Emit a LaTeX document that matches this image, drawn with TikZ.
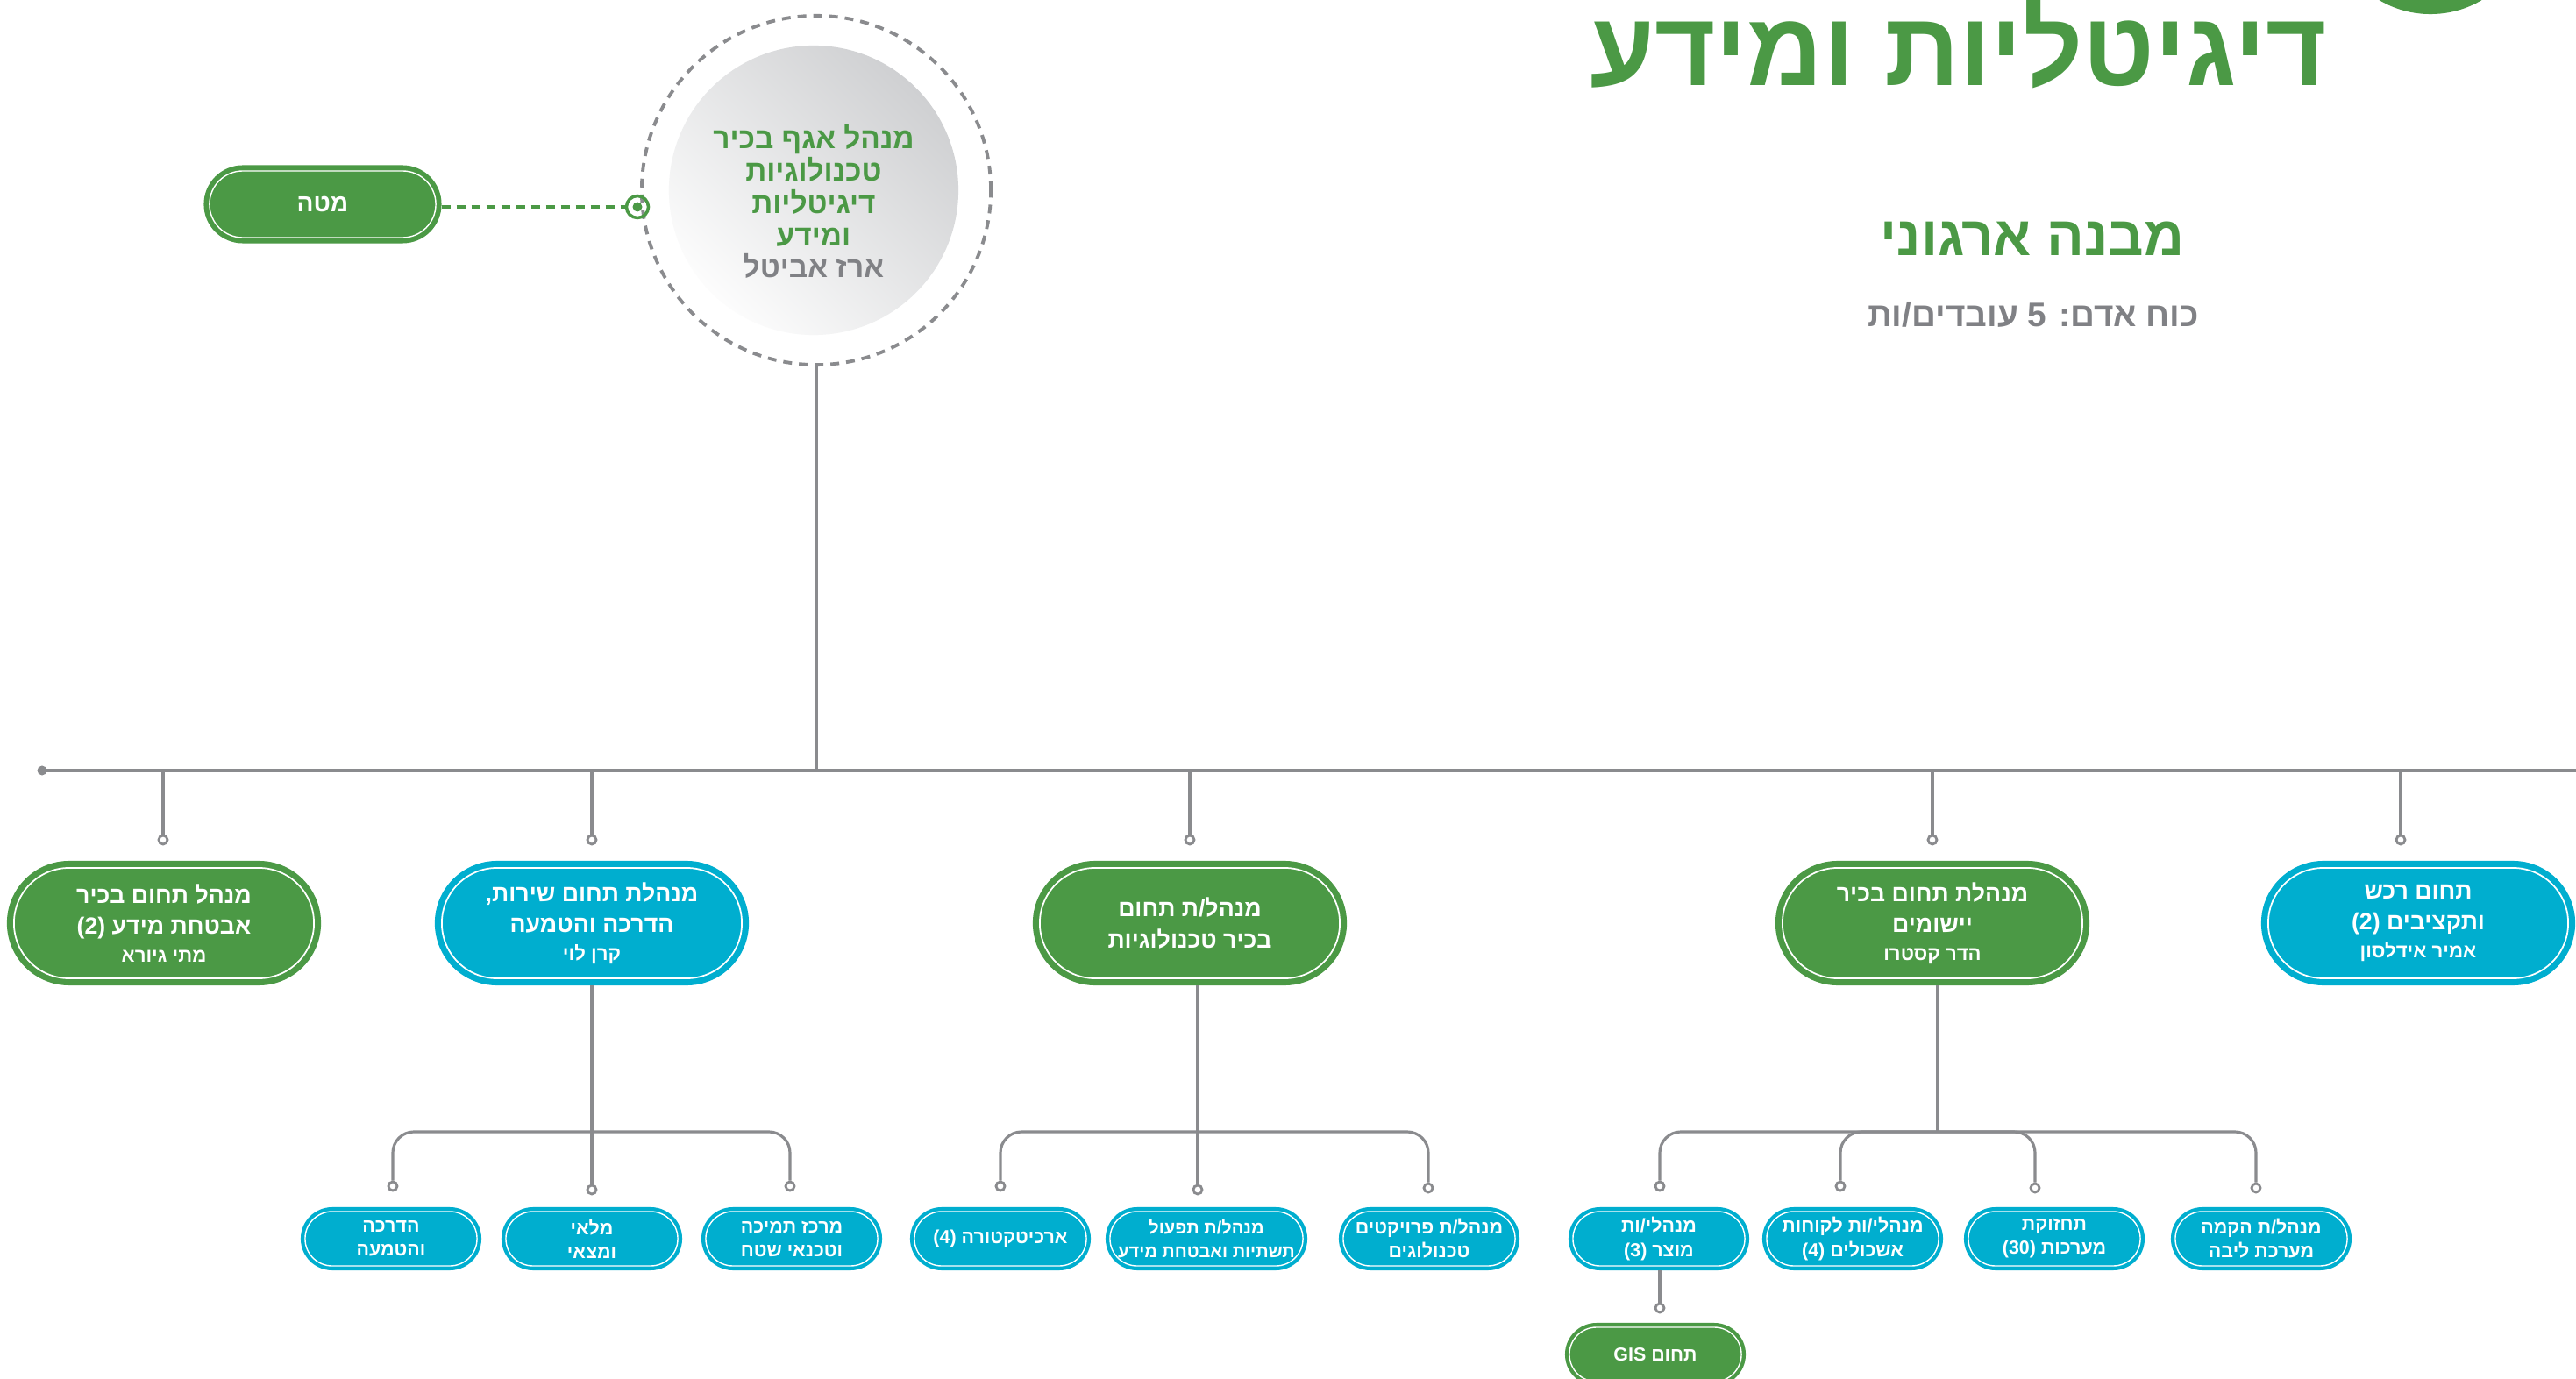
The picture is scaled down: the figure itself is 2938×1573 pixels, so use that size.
\documentclass[tikz,border=0pt]{standalone}
\usepackage{fontspec}
\usepackage{tikz}
\usetikzlibrary{positioning}
\TeXXeTstate=1
\newfontfamily\hebfont{Liberation Sans}[Script=Hebrew]
\newcommand{\heb}[1]{\beginR #1\endR}
\newcommand{\namefont}{\fontsize{6.3}{9}\selectfont}
\definecolor{leafgreen}{RGB}{75,153,69}
\definecolor{skyblue}{RGB}{0,174,207}
\definecolor{wiregray}{RGB}{138,139,142}
\definecolor{namegray}{RGB}{128,129,133}
\definecolor{discgray}{RGB}{207,208,210}
\tikzset{
    %Define standard connector
    wire/.style={
           draw=wiregray,
           line width=0.9pt,
           rounded corners=0.24cm},
    greendash/.style={
           draw=leafgreen,
           line width=1pt,
           dash pattern=on 0.1cm off 0.07cm},
    %Define style for end knobs
    knob/.style={
           circle,
           draw=wiregray, fill=white,
           line width=0.8pt,
           inner sep=0pt,
           minimum size=0.1cm},
    %Define style for the head circle
    ring/.style={
           circle,
           draw=wiregray, line width=1.1pt,
           dash pattern=on 0.1cm off 0.08cm,
           minimum size=3.98cm},
    disc/.style={
           circle,
           shading=axis,
           top color=discgray, middle color=discgray,
           bottom color=white!94!discgray,
           shading angle=-45,
           minimum size=3.3cm},
    disctext/.style={
           align=center,
           inner sep=0pt,
           text=leafgreen,
           font=\hebfont\bfseries\fontsize{9.5}{10.5}\selectfont},
    hook/.style={
           circle,
           draw=leafgreen, line width=1pt,
           inner sep=0pt,
           minimum size=0.25cm},
    %Define style for boxes
    headbox/.style={
           rectangle,
           rounded corners=0.63cm,
           draw=white, line width=0.5pt,
           minimum width=3.42cm,
           minimum height=1.26cm,
           inner sep=0pt, outer sep=0.08cm,
           text=white, align=center,
           font=\hebfont\bfseries\fontsize{7.6}{10}\selectfont},
    headgreen/.style={headbox, fill=leafgreen,
           preaction={draw=leafgreen, line width=0.16cm}},
    headblue/.style={headbox, fill=skyblue,
           preaction={draw=skyblue, line width=0.16cm}},
    unitbox/.style={
           rectangle,
           rounded corners=0.31cm,
           draw=white, line width=0.4pt,
           minimum width=1.96cm,
           minimum height=0.62cm,
           inner sep=0pt, outer sep=0.05cm,
           text=white, align=center,
           font=\hebfont\bfseries\fontsize{6.1}{7.7}\selectfont},
    unitgreen/.style={unitbox, fill=leafgreen,
           preaction={draw=leafgreen, line width=0.1cm}},
    unitblue/.style={unitbox, fill=skyblue,
           preaction={draw=skyblue, line width=0.1cm}},
    staffbox/.style={unitbox, fill=leafgreen,
           rounded corners=0.38cm,
           minimum width=2.58cm, minimum height=0.76cm,
           outer sep=0.065cm,
           font=\hebfont\bfseries\fontsize{8}{10}\selectfont,
           preaction={draw=leafgreen, line width=0.13cm}}
}
\begin{document}
\begin{tikzpicture}[x=0.01cm, y=-0.01cm]
\path[fill=white, use as bounding box] (0,0) rectangle (2938,1573);
 %title
\fill[leafgreen] (2772,-99) circle (1.15cm);
\node[anchor=base east, text=leafgreen, inner sep=0pt,
  font=\hebfont\bfseries\fontsize{34}{40}\selectfont] (t) at (2655,98) {\heb{דיגיטליות ומידע}};
\node[anchor=base, text=leafgreen, inner sep=0pt,
  font=\hebfont\bfseries\fontsize{18}{22}\selectfont] (t2) at (2318,292) {\heb{מבנה ארגוני}};
\node[anchor=base, text=namegray, inner sep=0pt,
  font=\hebfont\bfseries\fontsize{11}{14}\selectfont] (t3) at (2319,373) {\heb{כוח אדם: 5 עובדים/ות}};
 %head
\node[ring] (0) at (931,217) {};
\node[disc] (00) at (928,217) {};
\node[disctext] (00t) at (928,230) {\heb{מנהל אגף בכיר}\\ \heb{טכנולוגיות}\\ \heb{דיגיטליות}\\ \heb{ומידע}\\ {\color{namegray}\heb{ארז אביטל}}};
\node[hook] (h) at (727,236) {};
\fill[leafgreen] (h) circle (0.055cm);
\node[staffbox] (s) at (368,233) {\heb{מטה}};
\draw[greendash] (s.east |- h) -- (h.west);
 %bus
\coordinate (busL) at (48,879);
\coordinate (busR) at (2938,879);
\draw[wire] (busL) -- (busR);
\fill[wiregray] (busL) circle (0.055cm);
\draw[wire] (0) -- (0 |- busL);
\node[knob] (k1) at (186,958) {};
\node[knob] (k2) at (675,958) {};
\node[knob] (k3) at (1357,958) {};
\node[knob] (k4) at (2204,958) {};
\node[knob] (k5) at (2738,958) {};
\foreach \k in {k1,k2,k3,k4,k5}
  \draw[wire] (\k |- busL) -- (\k);
 %first row
\node[headgreen] (1) at (187,1053) {\heb{מנהל תחום בכיר}\\ \heb{אבטחת מידע (2)}\\[-0.9pt] {\namefont\heb{מתי גיורא}}};
\node[headblue] (2) at (675,1053) {\heb{מנהלת תחום שירות,}\\ \heb{הדרכה והטמעה}\\[-0.9pt] {\namefont\heb{קרן לוי}}};
\node[headgreen] (3) at (1357,1053) {\heb{מנהל/ת תחום}\\ \heb{בכיר טכנולוגיות}};
\node[headgreen] (4) at (2204,1053) {\heb{מנהלת תחום בכיר}\\ \heb{יישומים}\\[-0.9pt] {\namefont\heb{הדר קסטרו}}};
\node[headblue] (5) at (2758,1053) {\heb{תחום רכש}\\ \heb{ותקציבים (2)}\\[-0.9pt] {\namefont\heb{אמיר אידלסון}}};
 %units of 2
\coordinate (br2) at (675,1291);
\node[knob] (k21) at (448,1353) {};
\node[knob] (k22) at (675,1357) {};
\node[knob] (k23) at (901,1353) {};
\draw[wire] (k21) |- (br2) -| (k23);
\draw[wire] (2) -- (k22);
\node[unitblue] (21) at (446,1413) {\heb{הדרכה}\\ \heb{והטמעה}};
\node[unitblue] (22) at (675,1413) {\heb{מלאי}\\ \heb{ומצאי}};
\node[unitblue] (23) at (903,1413) {\heb{מרכז תמיכה}\\ \heb{וטכנאי שטח}};
 %units of 3
\coordinate (br3) at (1366,1291);
\node[knob] (k31) at (1141,1353) {};
\node[knob] (k32) at (1366,1357) {};
\node[knob] (k33) at (1629,1355) {};
\draw[wire] (k31) |- (br3) -| (k33);
\draw[wire] (k32 |- 3.south) -- (k32);
\node[unitblue] (31) at (1141,1413) {\heb{ארכיטקטורה (4)}};
\node[unitblue, minimum width=2.2cm,
  font=\hebfont\bfseries\fontsize{5.7}{7.7}\selectfont] (32) at (1376,1413) {\heb{מנהל/ת תפעול}\\ \heb{תשתיות ואבטחת מידע}};
\node[unitblue] (33) at (1630,1413) {\heb{מנהל/ת פרויקטים}\\ \heb{טכנולוגים}};
 %units of 4
\coordinate (br4) at (2210,1291);
\draw[wire] (br4 |- 4.south) -- (br4);
\node[knob] (k41) at (1893,1353) {};
\node[knob] (k42) at (2099,1353) {};
\node[knob] (k43) at (2321,1355) {};
\node[knob] (k44) at (2573,1355) {};
\draw[wire] (k41) |- (br4) -| (k44);
\draw[wire] (k42) |- (br4) -| (k43);
\node[unitblue] (41) at (1892,1413) {\heb{מנהלי/ות}\\ \heb{מוצר (3)}};
\node[unitblue] (42) at (2113,1413) {\heb{מנהלי/ות לקוחות}\\ \heb{אשכולים (4)}};
\node[unitblue] (43) at (2343,1413) {\heb{תחזוקת}\\ \heb{מערכות (30)}};
\node[unitblue] (44) at (2579,1413) {\heb{מנהל/ת הקמה}\\ \heb{מערכת ליבה}};
\node[knob] (k411) at (1893,1492) {};
\draw[wire] (k411 |- 41.south) -- (k411);
\node[unitgreen] (411) at (1888,1545) {\heb{תחום GIS}};
\end{tikzpicture}
\end{document}
